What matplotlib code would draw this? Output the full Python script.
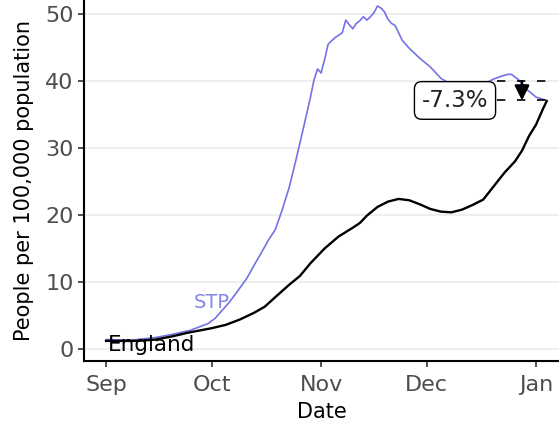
import numpy as np
import pandas as pd
import matplotlib
matplotlib.use('Agg')
import matplotlib.pyplot as plt
import matplotlib.dates as mdates

# STP series (people per 100,000)
stp_dates = ['2020-09-01', '2020-09-08', '2020-09-15', '2020-09-20', '2020-09-25',
             '2020-09-30', '2020-10-02', '2020-10-04', '2020-10-06', '2020-10-08',
             '2020-10-11', '2020-10-13', '2020-10-15', '2020-10-17', '2020-10-19',
             '2020-10-21', '2020-10-23', '2020-10-25', '2020-10-27', '2020-10-29',
             '2020-10-30', '2020-10-31', '2020-11-01', '2020-11-02', '2020-11-03',
             '2020-11-05', '2020-11-07', '2020-11-08', '2020-11-09', '2020-11-10',
             '2020-11-11', '2020-11-12', '2020-11-13', '2020-11-14', '2020-11-15',
             '2020-11-16', '2020-11-17', '2020-11-18', '2020-11-19', '2020-11-20',
             '2020-11-21', '2020-11-22', '2020-11-23', '2020-11-24', '2020-11-26',
             '2020-11-29', '2020-12-02', '2020-12-05', '2020-12-08', '2020-12-12',
             '2020-12-16', '2020-12-20', '2020-12-22', '2020-12-24', '2020-12-25',
             '2020-12-27', '2020-12-29', '2021-01-01', '2021-01-04']
stp_vals = [1.4, 1.3, 1.7, 2.2, 2.8,
            3.8, 4.6, 5.8, 7.0, 8.4,
            10.6, 12.5, 14.3, 16.2, 17.8,
            20.8, 24.2, 28.5, 33.0, 37.6,
            40.2, 41.8, 41.2, 43.2, 45.5,
            46.5, 47.2, 49.1, 48.4, 47.8,
            48.6, 49.0, 49.6, 49.1, 49.6,
            50.2, 51.2, 50.9, 50.3, 49.2,
            48.6, 48.3, 47.2, 46.1, 44.9,
            43.4, 42.1, 40.4, 39.5, 38.9,
            39.3, 40.3, 40.7, 41.0, 41.0,
            40.2, 38.9, 37.6, 37.1]

# England series
eng_dates = ['2020-09-01', '2020-09-10', '2020-09-15', '2020-09-20', '2020-09-24',
             '2020-10-01', '2020-10-05', '2020-10-09', '2020-10-13', '2020-10-16',
             '2020-10-20', '2020-10-23', '2020-10-26', '2020-10-29', '2020-11-02',
             '2020-11-06', '2020-11-10', '2020-11-12', '2020-11-14', '2020-11-17',
             '2020-11-20', '2020-11-23', '2020-11-26', '2020-11-29', '2020-12-02',
             '2020-12-05', '2020-12-08', '2020-12-11', '2020-12-14', '2020-12-17',
             '2020-12-20', '2020-12-23', '2020-12-26', '2020-12-28', '2020-12-30',
             '2021-01-01', '2021-01-03', '2021-01-04']
eng_vals = [1.2, 1.2, 1.4, 1.9, 2.4,
            3.1, 3.6, 4.4, 5.4, 6.3,
            8.2, 9.6, 10.9, 12.8, 15.0,
            16.8, 18.1, 18.8, 19.9, 21.2,
            22.0, 22.4, 22.2, 21.6, 20.9,
            20.5, 20.4, 20.8, 21.5, 22.3,
            24.3, 26.3, 28.0, 29.6, 31.8,
            33.5, 35.9, 37.0]

# week-on-week change annotation
ref_start = '2020-12-21'
ref_end = '2021-01-04'
ref_prev = 40.0
ref_now = 37.1
arrow_date = '2020-12-28'
change_label = '-7.3%'

stp_d = pd.to_datetime(stp_dates)
eng_d = pd.to_datetime(eng_dates)

fig = plt.figure(figsize=(5.59, 4.24), dpi=100)
ax = fig.add_axes([0.1503, 0.1486, 0.8497, 0.8514])

ax.plot(stp_d, stp_vals, color='#7373e6', lw=1.2)
ax.plot(eng_d, eng_vals, color='black', lw=1.7)

ax.text(pd.Timestamp('2020-10-01'), 7.0, 'STP', color='#8585ea',
        fontsize=14, ha='center', va='center')
ax.text(pd.Timestamp('2020-09-14'), 0.6, 'England', color='black',
        fontsize=15.5, ha='center', va='center')

# reference lines and arrow
for v in [ref_prev, ref_now]:
    ax.plot([pd.Timestamp(ref_start), pd.Timestamp(ref_end)], [v, v],
            color='black', lw=1.2, ls=(0, (5, 7)))
ax.annotate('', xy=(pd.Timestamp(arrow_date), ref_now),
            xytext=(pd.Timestamp(arrow_date), ref_prev),
            arrowprops=dict(arrowstyle='-|>', color='black', lw=1.8,
                            mutation_scale=22, shrinkA=0, shrinkB=0))
ax.text(pd.Timestamp('2020-12-09'), 37.1, change_label, fontsize=16.5,
        ha='center', va='center', color='#222222',
        bbox=dict(boxstyle='round,pad=0.32', fc='white', ec='black', lw=1.0))

ax.set_ylim(-1.8, 52.1)
ax.set_xlim(pd.Timestamp('2020-08-25 18:00'), pd.Timestamp('2021-01-07 12:00'))
ax.set_yticks([0, 10, 20, 30, 40, 50])
ax.xaxis.set_major_locator(mdates.MonthLocator())
ax.xaxis.set_major_formatter(mdates.DateFormatter('%b'))

ax.grid(axis='y', color='#ebebeb', lw=1.2)
ax.set_axisbelow(True)
for s in ['top', 'right']:
    ax.spines[s].set_visible(False)
for s in ['left', 'bottom']:
    ax.spines[s].set_linewidth(1.5)
ax.tick_params(labelsize=16, labelcolor='#4d4d4d', color='#333333',
               length=4, width=1.2)
ax.tick_params(axis='x', pad=6)

ax.set_xlabel('Date', fontsize=15, labelpad=5)
ax.set_ylabel('People per 100,000 population', fontsize=15, labelpad=8)

fig.savefig('out.png', dpi=100)
